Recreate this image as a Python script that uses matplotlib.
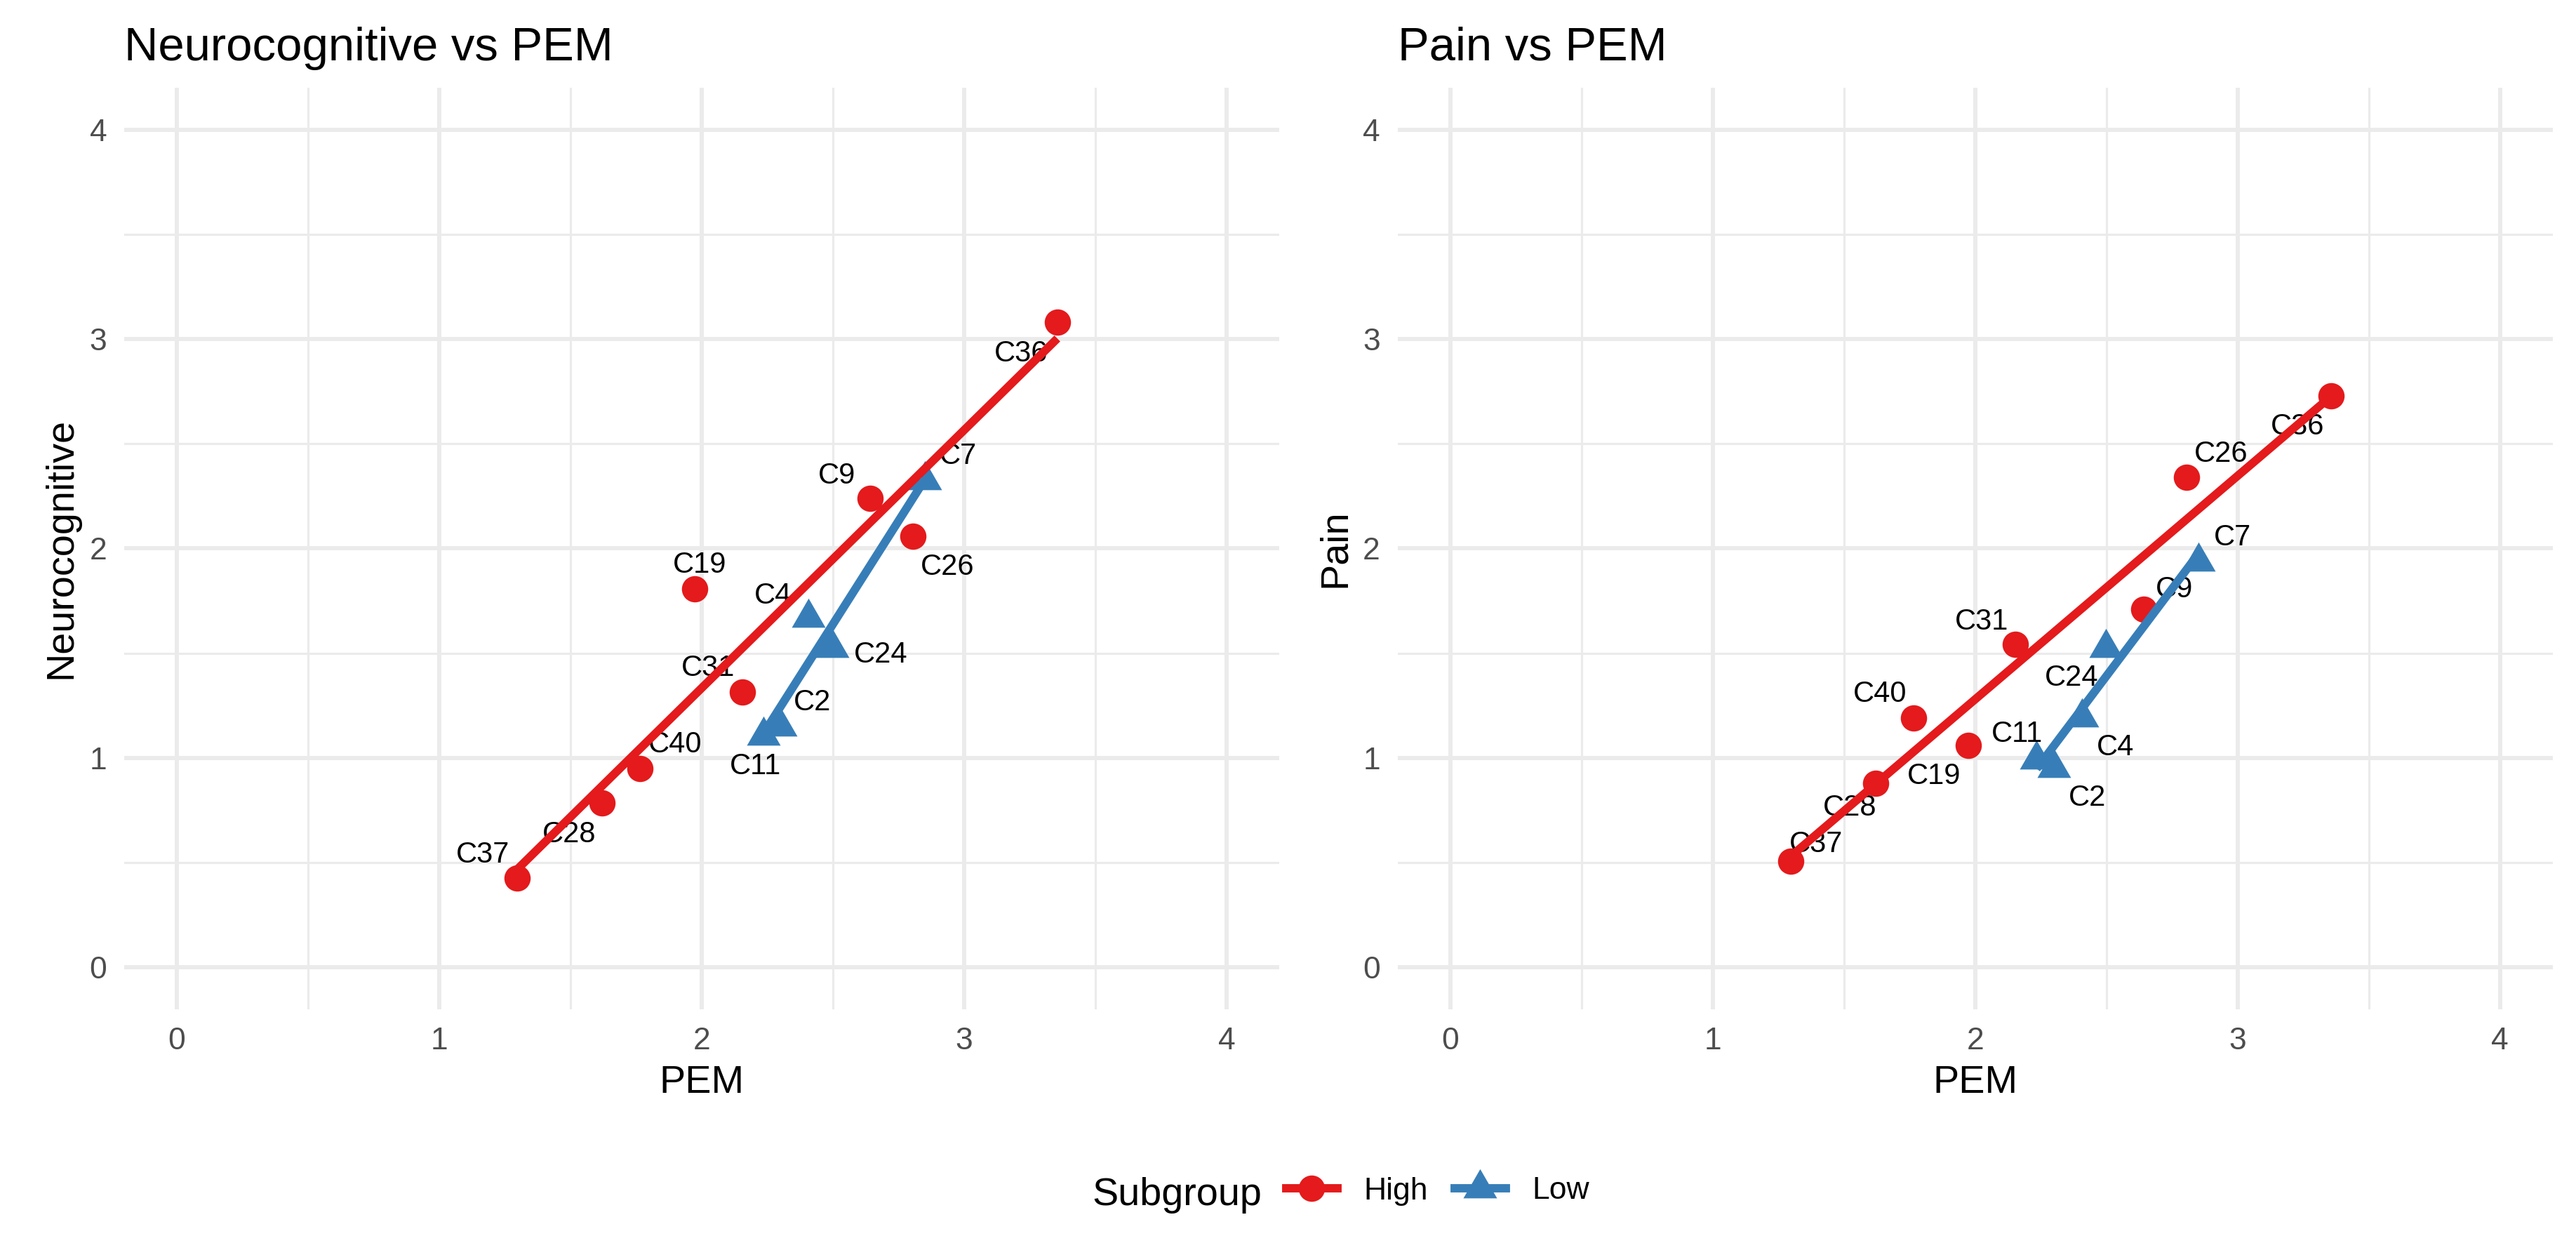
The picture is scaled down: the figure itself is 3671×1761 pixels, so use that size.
import numpy as np
import matplotlib
matplotlib.use("Agg")
import matplotlib.pyplot as plt
from matplotlib.lines import Line2D

plt.rcParams['font.family'] = ['Liberation Sans', 'DejaVu Sans']

# ---------------- data ----------------
high_ids = ["C37", "C28", "C40", "C19", "C31", "C9", "C26", "C36"]
high_pem = [1.297, 1.621, 1.765, 1.974, 2.154, 2.643, 2.805, 3.355]
high_neuro = [0.426, 0.783, 0.950, 1.806, 1.315, 2.238, 2.057, 3.081]
high_pain = [0.507, 0.880, 1.190, 1.058, 1.543, 1.711, 2.341, 2.729]

low_ids = ["C11", "C2", "C4", "C24", "C7"]
low_pem = [2.234, 2.300, 2.407, 2.498, 2.850]
low_neuro = [1.107, 1.149, 1.668, 1.525, 2.326]
low_pain = [0.993, 0.952, 1.193, 1.527, 1.937]

x_ticks = [0, 1, 2, 3, 4]
y_ticks = [0, 1, 2, 3, 4]
legend_labels = ["High", "Low"]

# label offsets (points) mimicking ggrepel placement
lab_off_neuro = {
    "C36": (-12.3, -9.7), "C7": (11.4, 9.2), "C9": (-11.5, 8.9), "C26": (11.8, -9.5),
    "C19": (1.7, 9.2), "C4": (-12.1, 8.7), "C24": (16.5, -1.4), "C31": (-11.7, 9.1),
    "C2": (10.9, 9.2), "C11": (-2.6, -9.5), "C40": (12.0, 9.2), "C28": (-11.3, -9.5),
    "C37": (-11.7, 9.0),
}
lab_off_pain = {
    "C36": (-11.4, -9.5), "C26": (11.8, 9.0), "C7": (11.8, 9.2), "C9": (10.3, 7.6),
    "C31": (-11.7, 8.8), "C24": (-11.7, -9.3), "C40": (-11.5, 9.3), "C11": (-6.6, 9.6),
    "C4": (11.3, -9.3), "C19": (-11.8, -9.5), "C2": (11.5, -9.2), "C28": (-8.9, -7.4),
    "C37": (8.8, 6.9),
}

RED = "#E41A1C"
BLUE = "#377EB8"
GRID = "#EBEBEB"
TICKC = "#4D4D4D"

tri = [(0, 1), (-0.8660254, -0.5), (0.8660254, -0.5)]
CIRC_MS = 9
TRI_MS = 13.3
LW = 2.85

TITLE_FS = 16.1
AXIS_FS = 13.4
TICK_FS = 10.7
LAB_FS = 10

W, H = 3671, 1761
fig = plt.figure(figsize=(W / 300, H / 300), dpi=300)

ax_w = 1645.6 / W
ax_h = 1312.6 / H
ax_b = 1 - 1437.7 / H
axL = fig.add_axes([177.2 / W, ax_b, ax_w, ax_h])
axR = fig.add_axes([1992.0 / W, ax_b, ax_w, ax_h])


def draw(ax, hy, ly, ylabel, title, offs):
    ax.set_xlim(-0.2, 4.2)
    ax.set_ylim(-0.2, 4.2)
    ax.set_xticks(x_ticks)
    ax.set_yticks(y_ticks)
    ax.set_xticks([0.5, 1.5, 2.5, 3.5], minor=True)
    ax.set_yticks([0.5, 1.5, 2.5, 3.5], minor=True)
    ax.set_xticklabels([str(t) for t in x_ticks])
    ax.set_yticklabels([str(t) for t in y_ticks])
    ax.grid(which='major', color=GRID, lw=1.42)
    ax.grid(which='minor', color=GRID, lw=0.75)
    ax.set_axisbelow(True)
    for s in ax.spines.values():
        s.set_visible(False)
    ax.tick_params(which='both', length=0)
    ax.tick_params(axis='both', which='major', labelsize=TICK_FS, labelcolor=TICKC, pad=6)

    # points
    ax.plot(high_pem, hy, ls='none', marker='o', ms=CIRC_MS, color=RED, mew=0, zorder=3)
    ax.plot(low_pem, ly, ls='none', marker=tri, ms=TRI_MS, color=BLUE, mew=0, zorder=3)

    # labels
    for ids, xs, ys in ((high_ids, high_pem, hy), (low_ids, low_pem, ly)):
        for i, x, y in zip(ids, xs, ys):
            dx, dy = offs[i]
            ax.annotate(i, (x, y), xytext=(dx, dy), textcoords='offset points',
                        ha='center', va='center_baseline', fontsize=LAB_FS, color='black',
                        zorder=4)

    # regression lines (lm fit, over data range)
    for xs, ys, c in ((high_pem, hy, RED), (low_pem, ly, BLUE)):
        xs_a = np.asarray(xs)
        ys_a = np.asarray(ys)
        k, b = np.polyfit(xs_a, ys_a, 1)
        xx = np.array([xs_a.min(), xs_a.max()])
        ax.plot(xx, k * xx + b, color=c, lw=LW, solid_capstyle='butt', zorder=5)

    ax.set_title(title, loc='left', fontsize=TITLE_FS, pad=9.4, color='black')
    ax.set_xlabel("PEM", fontsize=AXIS_FS, va='baseline')
    ax.xaxis.set_label_coords(0.5, -0.0907)
    ax.set_ylabel(ylabel, fontsize=AXIS_FS, va='baseline')
    ax.yaxis.set_label_coords(-0.0459, 0.5)


draw(axL, high_neuro, low_neuro, "Neurocognitive", "Neurocognitive vs PEM", lab_off_neuro)
draw(axR, high_pain, low_pain, "Pain", "Pain vs PEM", lab_off_pain)

# legend
fig.text(1556 / W, 1 - 1716.7 / H, "Subgroup", fontsize=AXIS_FS, ha='left', va='baseline')
handles = [
    Line2D([], [], color=RED, lw=LW, marker='o', ms=CIRC_MS, mew=0),
    Line2D([], [], color=BLUE, lw=LW, marker=tri, ms=TRI_MS, mew=0),
]
fig.legend(handles, legend_labels, loc='center left', bbox_to_anchor=(1833 / W, 1 - 1697 / H),
           ncol=2, frameon=False, fontsize=TICK_FS, handlelength=1.63, handletextpad=0.85,
           columnspacing=0.85, borderpad=0, borderaxespad=0)

fig.savefig("out.png", dpi=300)
